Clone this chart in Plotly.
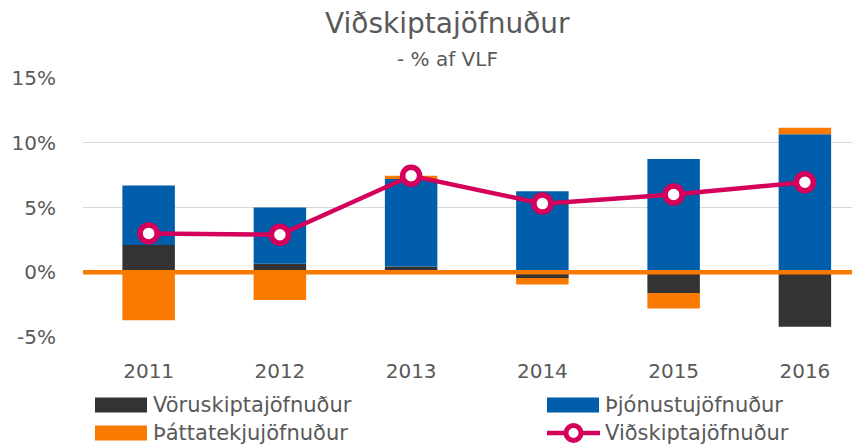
import plotly.graph_objects as go

# ---- data ----
years = ["2011", "2012", "2013", "2014", "2015", "2016"]
voruskipti = [2.1, 0.65, 0.45, -0.45, -1.6, -4.2]
thjonusta = [4.6, 4.35, 6.75, 6.25, 8.75, 10.65]
thattatekjur = [-3.7, -2.15, 0.25, -0.5, -1.2, 0.5]
vidskipti = [3.0, 2.9, 7.45, 5.3, 6.0, 6.95]

series_names = ["Vöruskiptajöfnuður", "Þjónustujöfnuður", "Þáttatekjujöfnuður", "Viðskiptajöfnuður"]
title_text = "Viðskiptajöfnuður"
subtitle_text = "- % af VLF"

# ---- style ----
C_BLACK = "#333333"
C_BLUE = "#005EAB"
C_ORANGE = "#F97A00"
C_MAGENTA = "#D4005A"
C_TEXT = "#595959"
FONT = "DejaVu Sans"

# page body has an 8px margin; the figure is placed at (8, 8)
OFF = 8
W, H = 860 - OFF, 448 - OFF
ML, MR, MT, MB = 83 - OFF, 0, 78 - OFF, 448 - 337
PW, PH = W - ML - MR, H - MT - MB


def px(x):  # reference-screen x -> paper
    return (x - OFF - ML) / PW


def py(y):  # reference-screen y -> paper
    return (H - MB - (y - OFF)) / PH


fig = go.Figure()
for name, vals, col in [
    (series_names[0], voruskipti, C_BLACK),
    (series_names[1], thjonusta, C_BLUE),
    (series_names[2], thattatekjur, C_ORANGE),
]:
    fig.add_trace(go.Bar(x=years, y=vals, name=name, marker=dict(color=col, line=dict(width=0)),
                         width=0.4, showlegend=False))

fig.add_trace(go.Scatter(
    x=years, y=vidskipti, name=series_names[3], mode="lines+markers",
    line=dict(color=C_MAGENTA, width=4.5),
    marker=dict(symbol="circle", size=17, color="white", line=dict(color=C_MAGENTA, width=5.5)),
    showlegend=False,
))

shapes = [
    dict(type="line", xref="paper", yref="y", x0=0, x1=1, y0=0, y1=0,
         line=dict(color=C_ORANGE, width=4.5), layer="above"),
]
annotations = [
    dict(text=title_text, xref="paper", yref="paper", x=px(447), y=py(24), xanchor="center", yanchor="middle",
         showarrow=False, font=dict(family=FONT, size=28, color=C_TEXT)),
    dict(text=subtitle_text, xref="paper", yref="paper", x=px(447), y=py(59), xanchor="center", yanchor="middle",
         showarrow=False, font=dict(family=FONT, size=20, color=C_TEXT)),
]

# custom legend (2 x 2)
legend_items = [
    (series_names[0], C_BLACK, 95, 405, "bar"),
    (series_names[1], C_BLUE, 547, 405, "bar"),
    (series_names[2], C_ORANGE, 95, 433, "bar"),
    (series_names[3], C_MAGENTA, 547, 433, "line"),
]
for name, col, x0, yc, kind in legend_items:
    if kind == "bar":
        shapes.append(dict(type="rect", xref="paper", yref="paper", x0=px(x0), x1=px(x0 + 52),
                           y0=py(yc - 7.5), y1=py(yc + 7.5), fillcolor=col, line=dict(width=0)))
    else:
        shapes.append(dict(type="line", xref="paper", yref="paper", x0=px(x0), x1=px(x0 + 53),
                           y0=py(yc), y1=py(yc), line=dict(color=col, width=4.5)))
        shapes.append(dict(type="circle", xref="paper", yref="paper", x0=px(x0 + 26.5 - 7.5),
                           x1=px(x0 + 26.5 + 7.5), y0=py(yc - 7.5), y1=py(yc + 7.5),
                           fillcolor="white", line=dict(color=col, width=5)))
    annotations.append(dict(text=name, xref="paper", yref="paper", x=px(x0 + 56), y=py(yc),
                            xanchor="left", yanchor="middle", showarrow=False,
                            font=dict(family=FONT, size=21, color=C_TEXT)))

fig.update_layout(
    width=W, height=H,
    margin=dict(l=ML, r=MR, t=MT, b=MB, pad=0),
    barmode="relative",
    plot_bgcolor="white", paper_bgcolor="white",
    font=dict(family=FONT, size=20, color=C_TEXT),
    shapes=shapes, annotations=annotations,
    showlegend=False,
    xaxis=dict(type="category", range=[-0.5, 5.42], showgrid=False, zeroline=False,
               showline=False, ticks="", ticklabelstandoff=20,
               tickfont=dict(family=FONT, size=20, color=C_TEXT)),
    yaxis=dict(range=[-5, 15], tickvals=[-5, 0, 5, 10, 15], ticktext=["-5%", "0%", "5%", "10%", "15%"],
               showgrid=True, gridcolor="#D9D9D9", gridwidth=1.3, zeroline=False, showline=False,
               ticks="", ticklabelstandoff=26, tickfont=dict(family=FONT, size=20, color=C_TEXT)),
)

fig.write_html("out.html")
